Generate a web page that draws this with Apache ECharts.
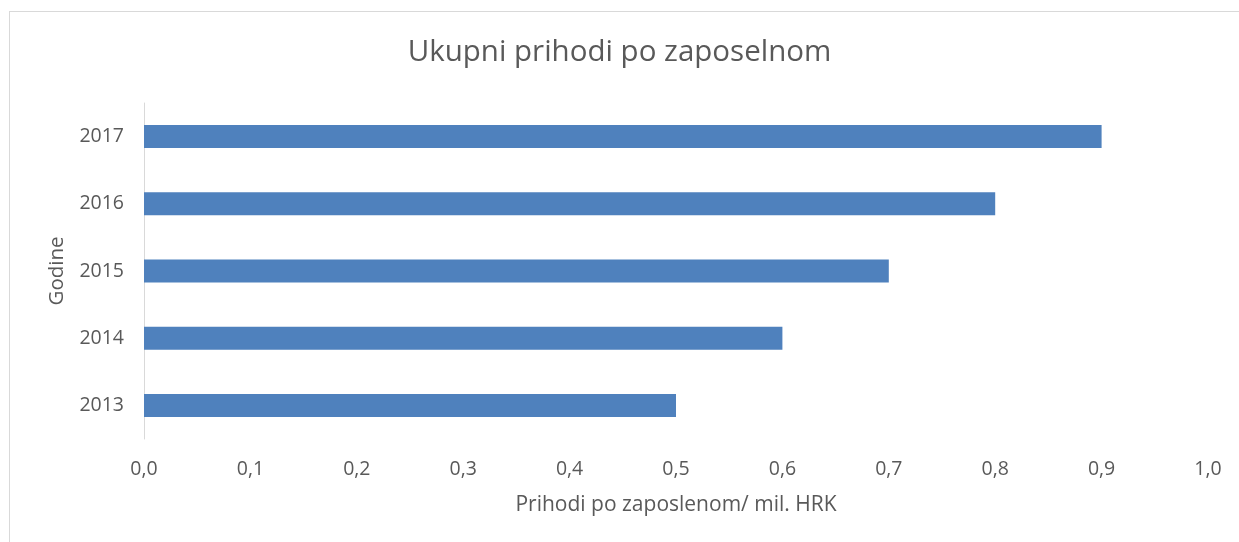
<!DOCTYPE html>
<html>
<head>
<meta charset="utf-8">
<style>
  html, body { margin: 0; padding: 0; background: #fff; }
  #frame { position: absolute; left: 9px; top: 11px; width: 1300px; height: 600px; border: 1px solid #d9d9d9; box-sizing: border-box; }
  #chart { position: absolute; left: 0; top: 0; width: 1239px; height: 542px; }
</style>
</head>
<body>
<div id="frame"></div>
<div id="chart"></div>
<script src="https://cdn.jsdelivr.net/npm/echarts@6/dist/echarts.min.js"></script>
<script>
  var godine = ['2013', '2014', '2015', '2016', '2017'];
  var prihodi = [0.5, 0.6, 0.7, 0.8, 0.9];

  var font = '"Open Sans", "Liberation Sans", sans-serif';
  var chart = echarts.init(document.getElementById('chart'));
  chart.setOption({
    animation: false,
    title: {
      text: 'Ukupni prihodi po zaposelnom',
      left: 'center',
      top: 33,
      textStyle: { fontFamily: font, fontSize: 29.5, fontWeight: 'normal', color: '#595959' }
    },
    grid: { left: 144, right: 31, top: 103, bottom: 103, containLabel: false },
    xAxis: {
      type: 'value',
      min: 0,
      max: 1,
      interval: 0.1,
      name: 'Prihodi po zaposlenom/ mil. HRK',
      nameLocation: 'middle',
      nameGap: 56,
      nameTextStyle: { fontFamily: font, fontSize: 21, color: '#595959' },
      axisLine: { show: false },
      axisTick: { show: false },
      splitLine: { show: false },
      axisLabel: {
        margin: 20,
        fontFamily: font, fontSize: 19.5, color: '#595959',
        formatter: function (v) { return v.toFixed(1).replace('.', ','); }
      }
    },
    yAxis: {
      type: 'category',
      data: godine,
      name: 'Godine',
      nameLocation: 'middle',
      nameGap: 76,
      nameRotate: 90,
      nameTextStyle: { fontFamily: font, fontSize: 20.5, color: '#595959' },
      axisLine: { show: true, lineStyle: { color: '#d9d9d9', width: 1 } },
      axisTick: { show: false },
      axisLabel: { margin: 20, fontFamily: font, fontSize: 19.5, color: '#595959' }
    },
    series: [{
      type: 'bar',
      data: prihodi,
      barWidth: 23,
      itemStyle: { color: '#4f81bd' }
    }]
  });
</script>
</body>
</html>
